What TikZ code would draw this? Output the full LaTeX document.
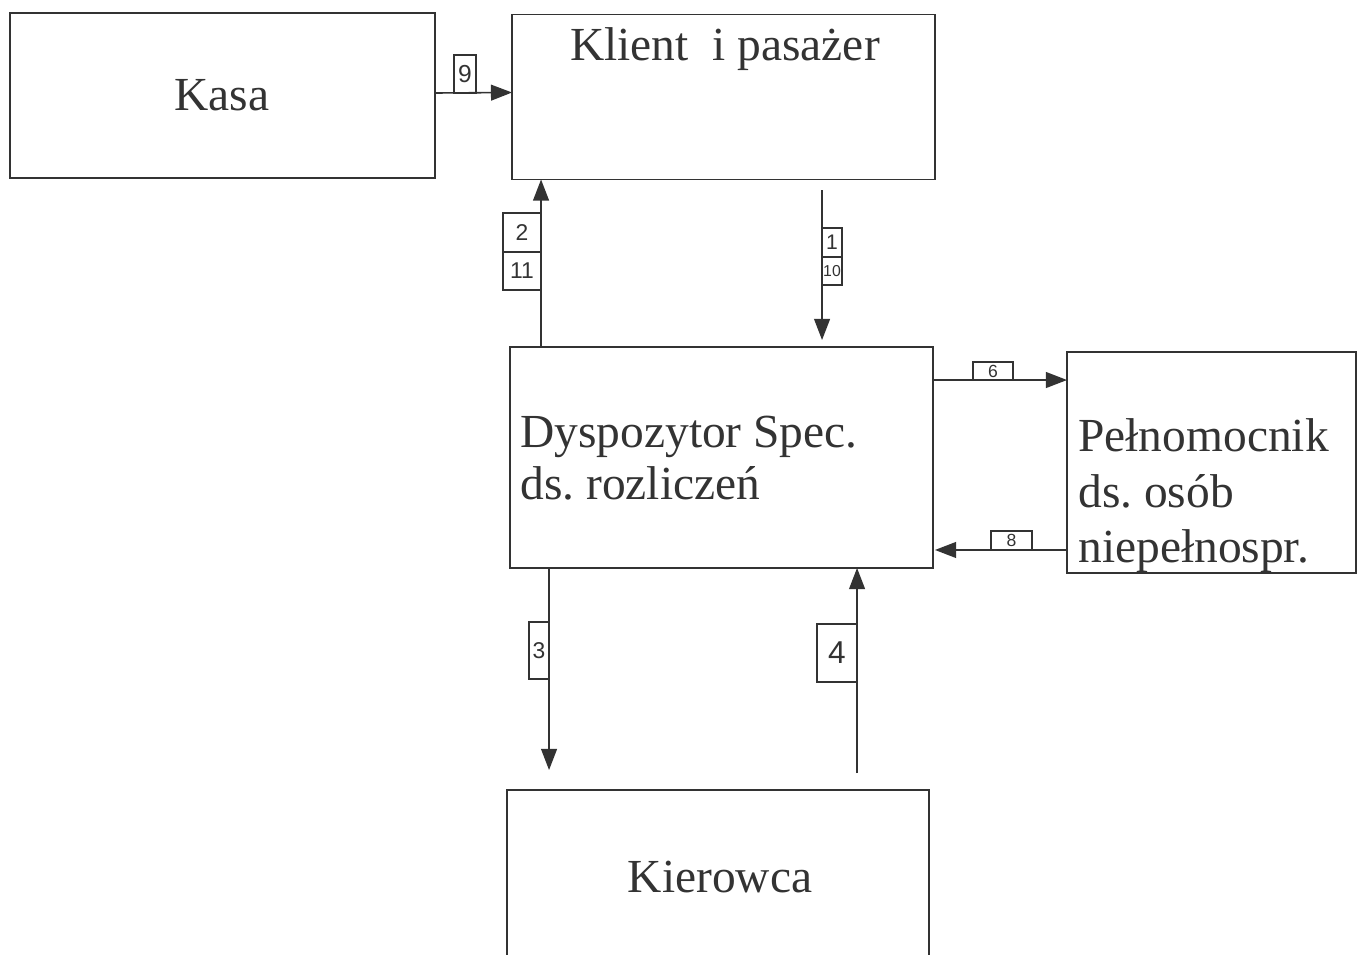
\documentclass[tikz,border=0pt]{standalone}
\usepackage{fontspec}
\setmainfont{Liberation Serif}
\setsansfont{Liberation Sans}
\usetikzlibrary{arrows.meta,calc}
\definecolor{ink}{HTML}{333333}
\frenchspacing
\tikzset{
  box/.style={draw=ink, line width=0.8pt, inner sep=0pt, outer sep=0pt},
  txt/.style={text=ink, font=\fontsize{27}{30}\selectfont, inner sep=0pt},
  arr/.style={draw=ink, line width=0.9pt, -{Triangle[length=12pt,width=9pt]}},
  lbl/.style={draw=ink, line width=0.6pt, inner sep=0pt, outer sep=0pt, text=ink, font=\sffamily}
}
\begin{document}
\begin{tikzpicture}[x=0.02cm,y=-0.02cm]
\useasboundingbox (0,0) rectangle (1364,955);
\fill[white] (0,0) rectangle (1364,955);
\clip (0,0) rectangle (1364,955);
% boxes
\node[box, minimum width=8.5cm, minimum height=3.3cm] (kasa) at (222.5,95.5) {};
\node[box, minimum width=8.46cm, minimum height=3.3cm] (klient) at (723.5,97) {};
\node[box, minimum width=8.46cm, minimum height=4.42cm] (dysp) at (721.5,457.5) {};
\node[box, minimum width=5.78cm, minimum height=4.42cm] (peln) at (1211.5,462.5) {};
\node[box, minimum width=8.44cm, minimum height=4.4cm] (kier) at (718,900) {};
% texts
\node[txt, anchor=base] (tkasa) at (222,111) {Kasa};
\node[txt, anchor=base] (tklient) at (725,61) {Klient\ \ i pasażer};
\node[txt, anchor=base west] (td1) at (520,448) {Dyspozytor Spec.};
\node[txt, anchor=base west] (td2) at (520,500) {ds. rozliczeń};
\node[txt, anchor=base west] (tp1) at (1078,452) {Pełnomocnik};
\node[txt, anchor=base west] (tp2) at (1078,507) {ds. osób};
\node[txt, anchor=base west] (tp3) at (1078,562) {niepełnospr.};
\node[txt, anchor=base] (tkier) at (720,892) {Kierowca};
% connectors
\draw[arr] ($(kasa.north east)+(0,80)$) -- ($(klient.north west)+(0,78)$);
\draw[arr] ($(dysp.north west)+(31,0)$) -- ($(klient.south west)+(29,0)$);
\draw[arr] ($(klient.south west)+(310,11)$) -- ($(dysp.north west)+(312,-7)$);
\draw[arr] ($(dysp.north east)+(0,33)$) -- ($(peln.north west)+(0,28)$);
\draw[arr] ($(peln.south west)+(0,-23)$) -- ($(dysp.south east)+(2,-18)$);
\draw[arr] ($(dysp.south west)+(39,0)$) -- ($(kier.north west)+(42,-20)$);
\draw[arr] ($(kier.north west)+(350,-17)$) -- ($(dysp.south west)+(347,0)$);
% labels
\node[lbl, minimum width=0.44cm, minimum height=0.76cm, font=\sffamily\fontsize{14}{14}\selectfont] (l9) at (465,74) {9};
\node[lbl, minimum width=0.76cm, minimum height=0.78cm, font=\sffamily\fontsize{13}{13}\selectfont] (l2) at (522,232.5) {2};
\node[lbl, minimum width=0.76cm, minimum height=0.76cm, font=\sffamily\fontsize{13}{13}\selectfont] (l11) at (522,271) {11};
\node[lbl, minimum width=0.4cm, minimum height=0.58cm, font=\sffamily\fontsize{12}{12}\selectfont] (l1) at (832,242.5) {1};
\node[lbl, minimum width=0.4cm, minimum height=0.56cm, font=\sffamily\fontsize{9}{9}\selectfont] (l10) at (832,271) {10};
\node[lbl, minimum width=0.8cm, minimum height=0.36cm, font=\sffamily\fontsize{10}{10}\selectfont] (l6) at (993,371) {6};
\node[lbl, minimum width=0.82cm, minimum height=0.38cm, font=\sffamily\fontsize{10}{10}\selectfont] (l8) at (1011.5,540.5) {8};
\node[lbl, minimum width=0.4cm, minimum height=1.14cm, font=\sffamily\fontsize{13}{13}\selectfont] (l3) at (539,650.5) {3};
\node[lbl, minimum width=0.8cm, minimum height=1.16cm, font=\sffamily\fontsize{18}{18}\selectfont] (l4) at (837,653) {4};
\end{tikzpicture}
\end{document}
